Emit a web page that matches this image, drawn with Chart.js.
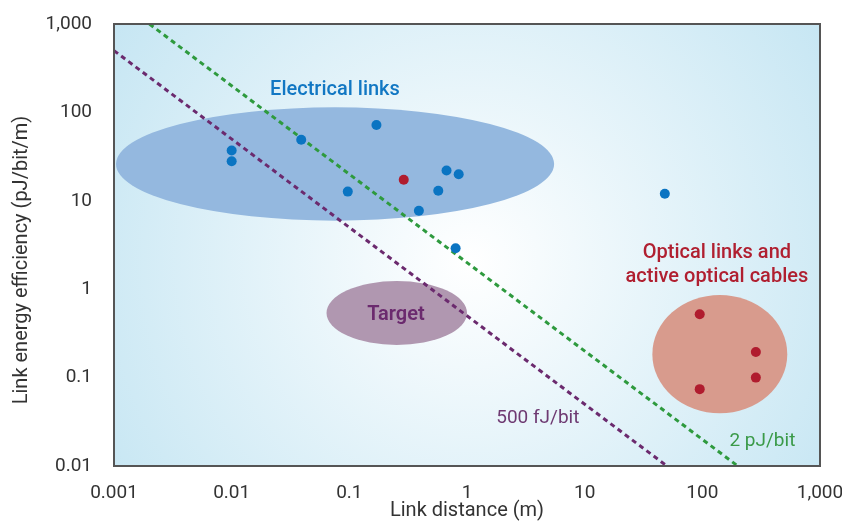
<!DOCTYPE html>
<html>
<head>
<meta charset="utf-8">
<script src="https://cdn.jsdelivr.net/npm/chart.js@4/dist/chart.umd.min.js"></script>
<style>
  body { margin: 0; background: #fff; }
  #wrap { width: 842px; height: 523px; }
</style>
</head>
<body>
<div id="wrap"><canvas id="chart"></canvas></div>
<script>
// tick values (log axes)
const xTicks = [0.001, 0.01, 0.1, 1, 10, 100, 1000];
const yTicks = [0.01, 0.1, 1, 10, 100, 1000];

// electrical links (distance m, pJ/bit/m)
const electricalDist = [0.01, 0.01, 0.039, 0.17, 0.097, 0.39, 0.67, 0.85, 0.57, 0.8, 48];
const electricalEff = [37, 28, 49, 72, 12.7, 7.7, 22, 20, 13, 2.9, 12];

// optical links and active optical cables
const opticalDist = [0.29, 95, 285, 285, 95];
const opticalEff = [17.3, 0.52, 0.195, 0.1, 0.074];

// constant energy-per-bit lines, end points
const line2pJDist = [0.002, 200];
const line2pJEff = [1000, 0.01];
const line500fJDist = [0.001, 50];
const line500fJEff = [500, 0.01];

// shaded regions: [xMin, xMax, yMin, yMax] in data units
const electricalRegion = [0.00104, 5.5, 5.96, 114];
const targetRegion = [0.064, 1.0, 0.234, 1.24];
const opticalRegion = [37.6, 527, 0.0394, 0.86];

const toPts = (xs, ys) => xs.map((x, i) => ({ x: x, y: ys[i] }));

const regions = [
  { box: electricalRegion, color: "#94b8df" },
  { box: targetRegion, color: "#b097b0" },
  { box: opticalRegion, color: "#d89b8d" },
];

const labels = [
  { text: "Electrical links", x: 0.0755, y: 179, color: "#1177c3", font: "500 20px Roboto" },
  { text: "Target", x: 0.249, y: 0.51, color: "#6b2a6e", font: "600 20px Roboto" },
  { text: "Optical links and", x: 133, y: 2.56, color: "#b01f30", font: "500 20px Roboto" },
  { text: "active optical cables", x: 133, y: 1.37, color: "#b01f30", font: "500 20px Roboto" },
  { text: "500 fJ/bit", x: 4.0, y: 0.0349, color: "#6e3a72", font: "19px Roboto" },
  { text: "2 pJ/bit", x: 324, y: 0.0192, color: "#3a9a48", font: "19px Roboto" },
];

const decor = {
  id: "decor",
  beforeDatasetsDraw(chart) {
    const { ctx, chartArea: a, scales } = chart;
    ctx.save();
    const g = ctx.createRadialGradient(470, 262, 0, 470, 262, 430);
    g.addColorStop(0, "#ffffff");
    g.addColorStop(1, "#c6e6f3");
    ctx.fillStyle = g;
    ctx.fillRect(a.left, a.top, a.right - a.left, a.bottom - a.top);
    regions.forEach(r => {
      const x0 = scales.x.getPixelForValue(r.box[0]);
      const x1 = scales.x.getPixelForValue(r.box[1]);
      const y0 = scales.y.getPixelForValue(r.box[3]);
      const y1 = scales.y.getPixelForValue(r.box[2]);
      ctx.beginPath();
      ctx.ellipse((x0 + x1) / 2, (y0 + y1) / 2, (x1 - x0) / 2, (y1 - y0) / 2, 0, 0, Math.PI * 2);
      ctx.fillStyle = r.color;
      ctx.fill();
    });
    ctx.restore();
  },
  afterDatasetsDraw(chart) {
    const { ctx, chartArea: a, scales } = chart;
    ctx.save();
    ctx.textAlign = "center";
    ctx.textBaseline = "middle";
    labels.forEach(l => {
      ctx.font = l.font;
      ctx.fillStyle = l.color;
      ctx.fillText(l.text, scales.x.getPixelForValue(l.x), scales.y.getPixelForValue(l.y));
    });
    ctx.strokeStyle = "#555";
    ctx.lineWidth = 2;
    ctx.strokeRect(a.left, a.top, a.right - a.left, a.bottom - a.top);
    // y axis title
    ctx.translate(22, 260);
    ctx.rotate(-Math.PI / 2);
    ctx.font = "20px Roboto";
    ctx.fillStyle = "#333";
    ctx.fillText("Link energy efficiency (pJ/bit/m)", 0, 0);
    ctx.restore();
  },
};

const tickFont = { family: "Roboto", size: 19 };

new Chart(document.getElementById("chart"), {
  type: "scatter",
  data: {
    datasets: [
      {
        label: "Electrical links",
        data: toPts(electricalDist, electricalEff),
        backgroundColor: "#0a74c2",
        pointRadius: 5,
        borderWidth: 0,
        order: 0,
      },
      {
        label: "Optical links",
        data: toPts(opticalDist, opticalEff),
        backgroundColor: "#b01c2e",
        pointRadius: 5,
        borderWidth: 0,
        order: 0,
      },
      {
        type: "line",
        label: "2 pJ/bit",
        data: toPts(line2pJDist, line2pJEff),
        borderColor: "#2e9a3e",
        borderWidth: 3,
        borderDash: [5, 4],
        pointRadius: 0,
        order: 1,
      },
      {
        type: "line",
        label: "500 fJ/bit",
        data: toPts(line500fJDist, line500fJEff),
        borderColor: "#6b2a6e",
        borderWidth: 3,
        borderDash: [5, 4],
        pointRadius: 0,
        order: 1,
      },
    ],
  },
  options: {
    responsive: true,
    maintainAspectRatio: false,
    animation: false,
    layout: { padding: { left: 0, right: 22, top: 24, bottom: 0 } },
    plugins: { legend: { display: false }, tooltip: { enabled: false } },
    scales: {
      x: {
        type: "logarithmic",
        min: 0.001,
        max: 1000,
        grid: { display: false },
        border: { display: false },
        afterBuildTicks: s => { s.ticks = xTicks.map(v => ({ value: v })); },
        afterFit: s => { s.height = 57; s.paddingLeft = 0; s.paddingRight = 0; },
        ticks: {
          color: "#333",
          font: tickFont,
          padding: 8,
          maxRotation: 0,
          callback: v => v.toLocaleString("en-US", { maximumFractionDigits: 3 }),
        },
        title: {
          display: true,
          text: "Link distance (m)",
          color: "#333",
          font: { family: "Roboto", size: 20 },
          padding: { top: 0, bottom: 0 },
        },
      },
      y: {
        type: "logarithmic",
        min: 0.01,
        max: 1000,
        grid: { display: false },
        border: { display: false },
        afterBuildTicks: s => { s.ticks = yTicks.map(v => ({ value: v })); },
        afterFit: s => { s.width = 114; s.paddingTop = 0; s.paddingBottom = 0; },
        ticks: {
          color: "#333",
          font: tickFont,
          padding: 14,
          callback: v => v.toLocaleString("en-US", { maximumFractionDigits: 3 }),
        },
      },
    },
  },
  plugins: [decor],
});
</script>
</body>
</html>
